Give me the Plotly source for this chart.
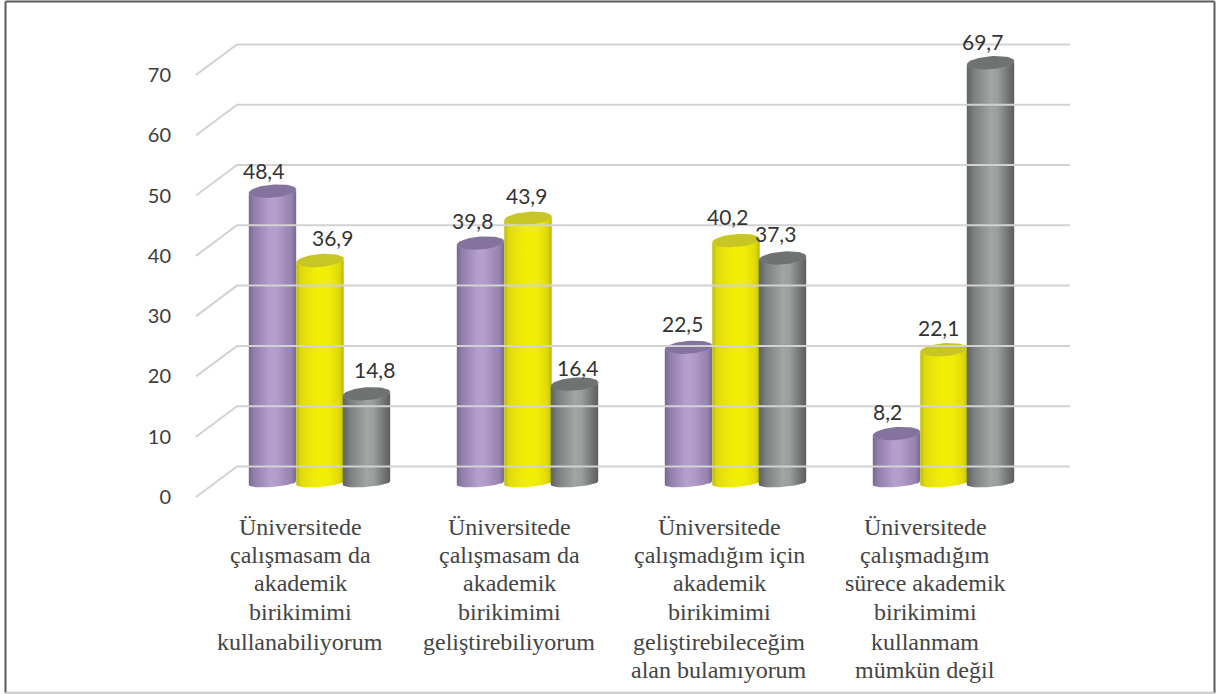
import numpy as np
import plotly.graph_objects as go

W, H = 1216, 694
categories = [
    ["Üniversitede", "çalışmasam da", "akademik", "birikimimi", "kullanabiliyorum"],
    ["Üniversitede", "çalışmasam da", "akademik", "birikimimi", "geliştirebiliyorum"],
    ["Üniversitede", "çalışmadığım için", "akademik", "birikimimi", "geliştirebileceğim", "alan bulamıyorum"],
    ["Üniversitede", "çalışmadığım", "sürece akademik", "birikimimi", "kullanmam", "mümkün değil"],
]
series_a = [48.4, 39.8, 22.5, 8.2]
series_b = [36.9, 43.9, 40.2, 22.1]
series_c = [14.8, 16.4, 37.3, 69.7]
ticks = [0, 10, 20, 30, 40, 50, 60, 70]

# pixel calibration of the axes
PX_X = 208.0       # px per category
X0 = 320.0         # px of first category centre
PX_Y = 6.03        # px per value unit
Y0_BAR = 483.0     # px of value 0 on bar plane
Y0_TICK = 497.0    # px of value 0 on tick-label axis
BAR_W = 47.0
A, B, TILT = 23.7, 6.5, 1.8
B_BASE = 4.0

styles = [
    dict(mid="#b09ac6", stops=[(0, "#75668f"), (0.1, "#8f7da9"), (0.45, "#b7a0cd"), (0.6, "#b39cc9"), (0.9, "#9582af"), (1, "#776894")], top="#84739d", offs=-47.5),
    dict(mid="#eeea0a", stops=[(0, "#bcb812"), (0.1, "#e0dc0c"), (0.45, "#f2ee08"), (0.7, "#f0ec08"), (0.92, "#dcd808"), (1, "#b8b410")], top="#c8c624", offs=0.0),
    dict(mid="#9a9c9c", stops=[(0, "#5e6262"), (0.15, "#7b7f7f"), (0.5, "#a2a4a4"), (0.65, "#9c9e9e"), (0.88, "#6f7373"), (1, "#5a5e5e")], top="#6e7271", offs=46.5),
]
all_series = [series_a, series_b, series_c]
names = ["Seri 1", "Seri 2", "Seri 3"]

# label nudges in px (x, y) relative to the bar's top centre
label_shift = [
    [(-9, 21), (12, 23), (8, 24)],
    [(-8, 23), (-2, 23), (3, 17)],
    [(-6, 24), (-9, 24), (-7, 25)],
    [(-9, 22), (-6, 22), (-8, 21)],
]
label_cx = [300, 509, 719, 925]
line_y = [527, 555, 583, 612, 642, 670]

fig = go.Figure()


def xpx(p):
    return (p - X0) / PX_X


def ell(cx, v, t, b):
    """ellipse points in data units around (cx px, v value)"""
    x = xpx(cx + A * np.cos(t))
    y = v - (b * np.sin(t) - TILT * np.cos(t)) / PX_Y
    return x, y


# grid: front diagonal, then back wall
X_F, X_B, X_E = xpx(196), xpx(237), xpx(1070)
DEPTH = 30.5 / PX_Y
for v in ticks:
    fig.add_trace(go.Scatter(
        x=[X_F, X_B, X_E], y=[v, v + DEPTH, v + DEPTH], yaxis="y2", mode="lines",
        line=dict(color="#d2d2d2", width=2), hoverinfo="skip", showlegend=False))

# plain bars carry the data; cylinder faces are painted on top
idx = list(range(len(series_a)))
for k, (vals, st) in enumerate(zip(all_series, styles)):
    fig.add_trace(go.Bar(
        x=[i + st["offs"] / PX_X for i in idx], y=vals, width=(BAR_W - 2) / PX_X,
        marker=dict(color=st["mid"], line=dict(width=0)), name=names[k],
        hoverinfo="skip", showlegend=False))

for g in idx:
    for vals, st in zip(all_series, styles):
        v = vals[g]
        cx = X0 + PX_X * g + st["offs"]
        tb = np.linspace(np.pi, 0, 40)      # lower arc, left to right
        xb, yb = ell(cx, 0, tb, B_BASE)
        xt, yt = ell(cx, v, tb[::-1], B)    # lower arc of top, right to left
        grad = dict(type="horizontal", colorscale=st["stops"])
        fig.add_trace(go.Scatter(
            x=np.r_[xb, xt], y=np.r_[yb, yt], mode="lines", fill="toself",
            fillgradient=grad, line=dict(width=0), hoverinfo="skip", showlegend=False))
        ta = np.linspace(0, 2 * np.pi, 60)
        xa, ya = ell(cx, v, ta, B)
        fig.add_trace(go.Scatter(
            x=xa, y=ya, mode="lines", fill="toself", fillcolor=st["top"],
            line=dict(width=0), hoverinfo="skip", showlegend=False))

annotations = []
for g in idx:
    for k, vals in enumerate(all_series):
        dx, dy = label_shift[g][k]
        annotations.append(dict(
            x=g + styles[k]["offs"] / PX_X, y=vals[g], xref="x", yref="y",
            text=f"{vals[g]:.1f}".replace(".", ","), showarrow=False,
            xshift=dx, yshift=dy, xanchor="center", yanchor="middle",
            font=dict(family="Lato", size=21, color="#333333")))
    for j, line in enumerate(categories[g]):
        annotations.append(dict(
            x=xpx(label_cx[g]), y=1 - line_y[j] / H, xref="x", yref="paper",
            text=line, showarrow=False, xanchor="center", yanchor="middle",
            font=dict(family="Liberation Serif", size=24, color="#444444")))

frame = [
    (5.5, 1.5, 5.5, 693, "#5a5a5a"),
    (5.5, 1.5, 1214.5, 1.5, "#5a5a5a"),
    (1214.5, 1.5, 1214.5, 693, "#5a5a5a"),
    (5.5, 692.8, 1214.5, 692.8, "#c8c8c8"),
]
shapes = [dict(type="line", xref="paper", yref="paper", x0=a / W, y0=1 - b / H, x1=c / W, y1=1 - d / H,
               line=dict(color=col, width=2)) for a, b, c, d, col in frame]

fig.update_layout(
    width=W, height=H, margin=dict(l=0, r=0, t=0, b=0),
    paper_bgcolor="white", plot_bgcolor="white", barmode="overlay",
    showlegend=False, annotations=annotations, shapes=shapes,
    xaxis=dict(range=[xpx(0), xpx(W)], visible=False, fixedrange=True),
    yaxis=dict(range=[(Y0_BAR - H) / PX_Y, Y0_BAR / PX_Y], visible=False, fixedrange=True),
    yaxis2=dict(range=[(Y0_TICK - H) / PX_Y, Y0_TICK / PX_Y], overlaying="y", anchor="free",
                position=171 / W, side="left", tickvals=ticks, ticktext=[str(t) for t in ticks],
                showgrid=False, zeroline=False, showline=False, ticks="",
                tickfont=dict(family="Lato", size=20, color="#3c3c3c"), fixedrange=True),
)
fig.write_html("out.html", config={"displayModeBar": False},
               post_script="document.body.style.margin='0';document.documentElement.style.overflow='hidden';")
